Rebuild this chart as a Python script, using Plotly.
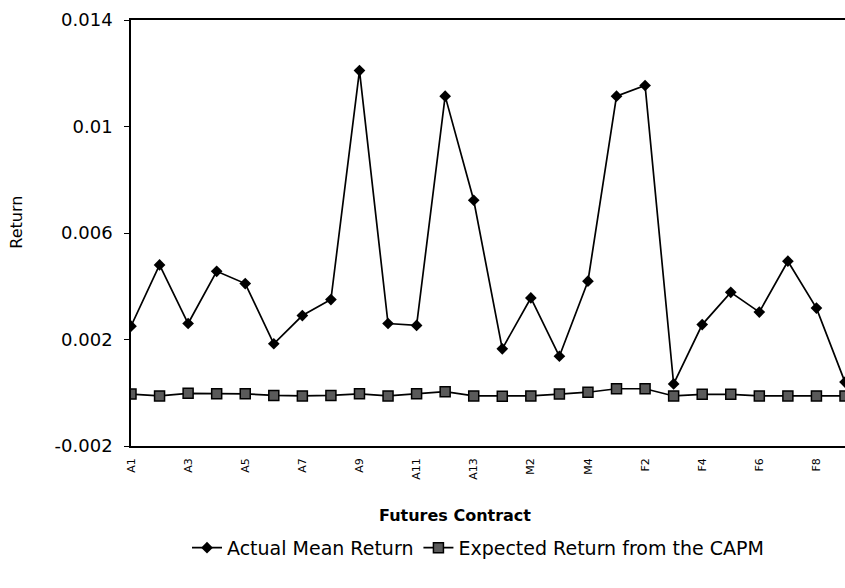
import plotly.graph_objects as go

# Futures contracts on the category axis
contracts = [f"A{i}" for i in range(1, 14)] + [f"M{i}" for i in range(1, 5)] + [f"F{i}" for i in range(1, 10)]

# Actual mean returns per contract
actual_mean = [0.0025, 0.0048, 0.0026, 0.00456, 0.0041, 0.00184, 0.0029, 0.0035, 0.0121,
               0.0026, 0.00253, 0.01114, 0.00723,
               0.00165, 0.00356, 0.00137, 0.00419,
               0.01114, 0.01154, 0.00033, 0.00256, 0.00377, 0.00303, 0.00494, 0.00318, 0.0004]

# Expected returns from the CAPM
capm_expected = [-0.00005, -0.00012, -0.00002, -0.00004, -0.00004, -0.0001, -0.00012, -0.0001, -0.00004,
                 -0.00012, -0.00004, 0.00004, -0.00012,
                 -0.00013, -0.00012, -0.00005, 0.00002,
                 0.00015, 0.00015, -0.00012, -0.00006, -0.00006, -0.00012, -0.00012, -0.00012, -0.00012]

# Every other contract is labelled on the axis
tick_labels = contracts[::2]

y_ticks = [-0.002, 0.002, 0.006, 0.01, 0.014]
y_tick_text = ["-0.002", "0.002", "0.006", "0.01", "0.014"]

FONT = "DejaVu Sans"
x_idx = list(range(len(contracts)))

fig = go.Figure()
fig.add_trace(go.Scatter(
    x=x_idx, y=actual_mean, mode="lines+markers", name="Actual Mean Return",
    line=dict(color="black", width=1.7),
    marker=dict(symbol="diamond", size=9, color="black"),
))
fig.add_trace(go.Scatter(
    x=x_idx, y=capm_expected, mode="lines+markers", name="Expected Return from the CAPM",
    line=dict(color="black", width=1.7),
    marker=dict(symbol="square", size=10, color="#5a5a5a", line=dict(color="black", width=1.5)),
))

fig.update_layout(
    width=845, height=588,
    margin=dict(l=131, r=0, t=20, b=142),
    paper_bgcolor="white", plot_bgcolor="white",
    font=dict(family=FONT, color="black"),
    showlegend=True,
    legend=dict(orientation="h", x=0.486, xanchor="center", y=-0.239, yanchor="middle",
                font=dict(size=19, family=FONT), bgcolor="rgba(0,0,0,0)"),
    xaxis=dict(
        range=[0, len(contracts) - 1],
        tickmode="array", tickvals=x_idx[::2], ticktext=tick_labels,
        tickangle=-90, tickfont=dict(size=11, family=FONT),
        showgrid=False, zeroline=False,
        showline=True, linecolor="black", linewidth=1.5, mirror=True,
        ticks="", ticklabelstandoff=6,
    ),
    yaxis=dict(
        range=[-0.002, 0.014],
        tickmode="array", tickvals=y_ticks, ticktext=y_tick_text,
        tickfont=dict(size=18, family=FONT),
        showgrid=False, zeroline=False,
        showline=True, linecolor="black", linewidth=1.5,
        ticks="outside", ticklen=5, tickcolor="black", ticklabelstandoff=8,
    ),
    annotations=[
        dict(text="Futures Contract", x=0.454, y=-0.164, xref="paper", yref="paper",
             xanchor="center", yanchor="middle", showarrow=False,
             font=dict(size=16, family=FONT, color="black", weight="bold")),
        dict(text="Return", x=-0.160, y=0.526, xref="paper", yref="paper",
             xanchor="center", yanchor="middle", showarrow=False, textangle=-90,
             font=dict(size=16, family=FONT, color="black")),
    ],
)

fig.write_html("out.html")
